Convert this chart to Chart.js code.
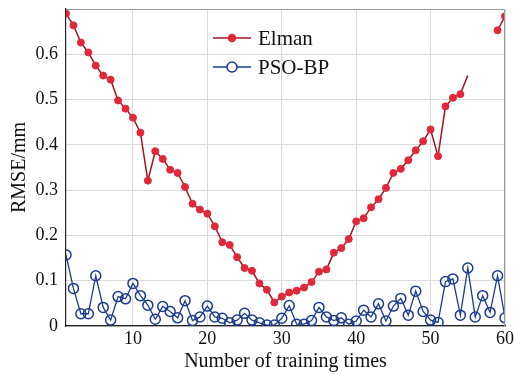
<!DOCTYPE html>
<html>
<head>
<meta charset="utf-8">
<script src="https://cdn.jsdelivr.net/npm/chart.js@4/dist/chart.umd.min.js"></script>
<style>
html,body{margin:0;padding:0;background:#fff;}
#wrap{width:514px;height:374px;position:relative;}
</style>
</head>
<body>
<div id="wrap"><canvas id="c" width="514" height="374"></canvas></div>
<script>
const trainingTimes = Array.from({length: 60}, (_, i) => i + 1);
const elman = [
  0.690, 0.664, 0.626, 0.604, 0.575, 0.553, 0.544, 0.498, 0.480, 0.460,
  0.427, 0.321, 0.386, 0.369, 0.345, 0.338, 0.307, 0.270, 0.257, 0.248,
  0.220, 0.185, 0.179, 0.152, 0.128, 0.122, 0.094, 0.080, 0.052, 0.065,
  0.074, 0.078, 0.085, 0.097, 0.120, 0.125, 0.162, 0.172, 0.192, 0.231,
  0.238, 0.262, 0.280, 0.305, 0.338, 0.347, 0.366, 0.388, 0.408, 0.434,
  0.375, 0.485, 0.504, 0.512, 0.553, null, null, null, 0.653, 0.684
];
const psoBp = [
  0.157, 0.083, 0.027, 0.027, 0.111, 0.041, 0.013, 0.065, 0.060, 0.094,
  0.067, 0.046, 0.015, 0.043, 0.032, 0.018, 0.056, 0.012, 0.020, 0.044,
  0.020, 0.017, 0.007, 0.013, 0.028, 0.013, 0.007, 0.002, 0.002, 0.017,
  0.045, 0.004, 0.004, 0.012, 0.041, 0.020, 0.012, 0.018, 0.004, 0.011,
  0.035, 0.020, 0.049, 0.011, 0.044, 0.061, 0.024, 0.077, 0.032, 0.013,
  0.008, 0.098, 0.104, 0.024, 0.128, 0.020, 0.067, 0.030, 0.111, 0.018
];
const xTicks = [10, 20, 30, 40, 50, 60];
const yTicks = [0, 0.1, 0.2, 0.3, 0.4, 0.5, 0.6];
const seriesNames = ['Elman', 'PSO-BP'];

const FONT = '"Liberation Serif", "Times New Roman", serif';
const RED_LINE = '#a3141f';
const RED_PT = '#e0283a';
const BLUE = '#1b3b8f';

const framePlugin = {
  id: 'frame',
  afterDraw(chart) {
    const {ctx, chartArea: a} = chart;
    ctx.save();
    ctx.strokeStyle = '#9a9a9a';
    ctx.lineWidth = 1;
    ctx.beginPath();
    ctx.moveTo(a.left, a.top + 0.5);
    ctx.lineTo(a.right - 0.5, a.top + 0.5);
    ctx.lineTo(a.right - 0.5, a.bottom);
    ctx.stroke();
    // legend
    const items = [
      {y: 38, name: seriesNames[0], line: RED_LINE, fill: RED_PT, stroke: RED_PT, r: 3.5},
      {y: 67, name: seriesNames[1], line: BLUE, fill: '#ffffff', stroke: BLUE, r: 5}
    ];
    items.forEach(it => {
      ctx.strokeStyle = it.line;
      ctx.lineWidth = 1.5;
      ctx.beginPath();
      ctx.moveTo(213, it.y);
      ctx.lineTo(251, it.y);
      ctx.stroke();
      ctx.beginPath();
      ctx.arc(232, it.y, it.r, 0, Math.PI * 2);
      ctx.fillStyle = it.fill;
      ctx.fill();
      ctx.strokeStyle = it.stroke;
      ctx.lineWidth = 1.5;
      ctx.stroke();
      ctx.fillStyle = '#111';
      ctx.font = '21px ' + FONT;
      ctx.textBaseline = 'middle';
      ctx.textAlign = 'left';
      ctx.fillText(it.name, 258, it.y + 1);
    });
    ctx.restore();
  }
};

new Chart(document.getElementById('c'), {
  type: 'line',
  data: {
    labels: trainingTimes,
    datasets: [
      {
        label: seriesNames[0],
        data: trainingTimes.map((x, i) => ({x, y: elman[i]})),
        borderColor: RED_LINE,
        borderWidth: 1.5,
        backgroundColor: RED_PT,
        pointBackgroundColor: RED_PT,
        pointBorderColor: RED_PT,
        pointRadius: ctx => ctx.dataIndex === 54 ? 0 : 3.5,
        pointBorderWidth: 1,
        spanGaps: false,
        tension: 0
      },
      {
        label: seriesNames[1],
        data: trainingTimes.map((x, i) => ({x, y: psoBp[i]})),
        borderColor: BLUE,
        borderWidth: 1.3,
        backgroundColor: 'rgba(255,255,255,0)',
        pointBackgroundColor: 'rgba(255,255,255,0)',
        pointBorderColor: BLUE,
        pointRadius: 5,
        pointBorderWidth: 1.5,
        tension: 0
      }
    ]
  },
  options: {
    responsive: false,
    animation: false,
    layout: {padding: {left: 0, right: 9, top: 9, bottom: 0}},
    plugins: {legend: {display: false}, tooltip: {enabled: false}},
    scales: {
      x: {
        type: 'linear',
        min: 1,
        max: 60,
        afterBuildTicks: s => { s.ticks = xTicks.map(v => ({value: v})); },
        afterFit: s => { s.height = 48; s.paddingLeft = 0; s.paddingRight = 0; },
        grid: {color: '#d9d9d9', drawTicks: false},
        border: {color: '#222', width: 1.2},
        ticks: {color: '#111', font: {family: FONT, size: 18}, padding: 2, maxRotation: 0},
        title: {display: true, text: 'Number of training times', color: '#111',
                font: {family: FONT, size: 20}, padding: {top: -11, bottom: 0}}
      },
      y: {
        min: 0,
        max: 0.7,
        afterBuildTicks: s => { s.ticks = yTicks.map(v => ({value: v})); },
        afterFit: s => { s.width = 66; s.paddingTop = 0; s.paddingBottom = 0; },
        grid: {color: '#d9d9d9', drawTicks: false},
        border: {color: '#222', width: 1.2},
        ticks: {color: '#111', font: {family: FONT, size: 18}, padding: 8,
                callback: v => String(Math.round(v * 10) / 10)},
        title: {display: true, text: 'RMSE/mm', color: '#111',
                font: {family: FONT, size: 20}, padding: {top: 8, bottom: 0}}
      }
    }
  },
  plugins: [framePlugin]
});
</script>
</body>
</html>
